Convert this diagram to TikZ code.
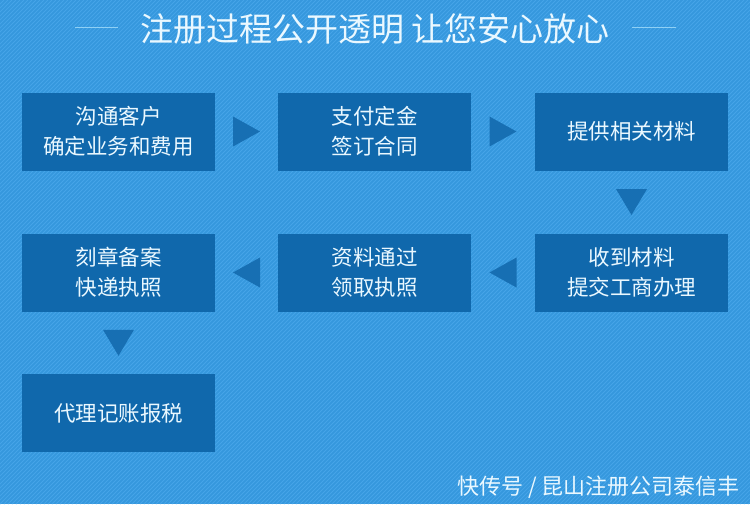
\documentclass[tikz,border=0pt]{standalone}
\usepackage{fontspec}
\setmainfont{Noto Sans CJK SC}
\usetikzlibrary{calc}
\definecolor{bgblue}{HTML}{3597DD}
\definecolor{stripe}{HTML}{46A4E8}
\definecolor{boxblue}{HTML}{1068AC}
\definecolor{triblue}{HTML}{176FB3}
\definecolor{txt}{HTML}{EAF8FF}
\definecolor{linec}{HTML}{8FD0F5}
\tikzset{
  stepbox/.style={fill=boxblue, minimum width=193pt, minimum height=78pt, inner sep=0pt,
    text=txt, font=\fontsize{21.5}{30}\selectfont, align=center},
  tri/.style={fill=triblue},
}
\begin{document}
\begin{tikzpicture}[x=1pt,y=-1pt]
\fill[bgblue] (0,0) rectangle (750,504);
\useasboundingbox (0,0) rectangle (750,504);
\begin{scope}
\clip (0,0) rectangle (750,504);
\foreach \i in {0,4,...,1260} {
  \draw[stripe, line width=0.9pt] (\i,0) -- ++(-504,504);
}
\end{scope}
% title
\node[text=txt, font=\fontsize{33}{38}\selectfont, inner sep=0pt] (title) at (375,29) {注册过程公开透明 让您安心放心};
\coordinate (tl1) at (75,27); \coordinate (tl2) at (118,27);
\coordinate (tr1) at (632,27); \coordinate (tr2) at (676,27);
\draw[linec, line width=0.8pt] (tl1) -- (tl2);
\draw[linec, line width=0.8pt] (tr1) -- (tr2);
% boxes
\node[stepbox] (b1) at (118.5,131.5) {沟通客户\\确定业务和费用};
\node[stepbox] (b2) at (374.5,131.5) {支付定金\\签订合同};
\node[stepbox] (b3) at (631.5,131.5) {提供相关材料};
\node[stepbox] (b4) at (631.5,272.5) {收到材料\\提交工商办理};
\node[stepbox] (b5) at (374.5,272.5) {资料通过\\领取执照};
\node[stepbox] (b6) at (118.5,272.5) {刻章备案\\快递执照};
\node[stepbox] (b7) at (118.5,413) {代理记账报税};
% triangles
\coordinate (a12) at ($(b1.east)!0.5!(b2.west)$);
\coordinate (a23) at ($(b2.east)!0.5!(b3.west)$);
\coordinate (a34) at ($(b3.south)!0.5!(b4.north)$);
\coordinate (a45) at ($(b4.west)!0.5!(b5.east)$);
\coordinate (a56) at ($(b5.west)!0.5!(b6.east)$);
\coordinate (a67) at ($(b6.south)!0.5!(b7.north)$);
\fill[tri] ($(a12)+(-13.5,-15)$) -- ($(a12)+(13.5,0)$) -- ($(a12)+(-13.5,15)$) -- cycle;
\fill[tri] ($(a23)+(-13.5,-15)$) -- ($(a23)+(13.5,0)$) -- ($(a23)+(-13.5,15)$) -- cycle;
\fill[tri] ($(a45)+(13.5,-15)$) -- ($(a45)+(-13.5,0)$) -- ($(a45)+(13.5,15)$) -- cycle;
\fill[tri] ($(a56)+(13.5,-15)$) -- ($(a56)+(-13.5,0)$) -- ($(a56)+(13.5,15)$) -- cycle;
\fill[tri] ($(a34)+(-15.5,-13)$) -- ($(a34)+(15.5,-13)$) -- ($(a34)+(0,13)$) -- cycle;
\fill[tri] ($(a67)+(-15.5,-13)$) -- ($(a67)+(15.5,-13)$) -- ($(a67)+(0,13)$) -- cycle;
% watermark
\node[text=txt, font=\fontsize{22}{26}\selectfont, inner sep=0pt, anchor=east] (wm) at (740,487) {快传号 / 昆山注册公司泰信丰};
\end{tikzpicture}
\end{document}
